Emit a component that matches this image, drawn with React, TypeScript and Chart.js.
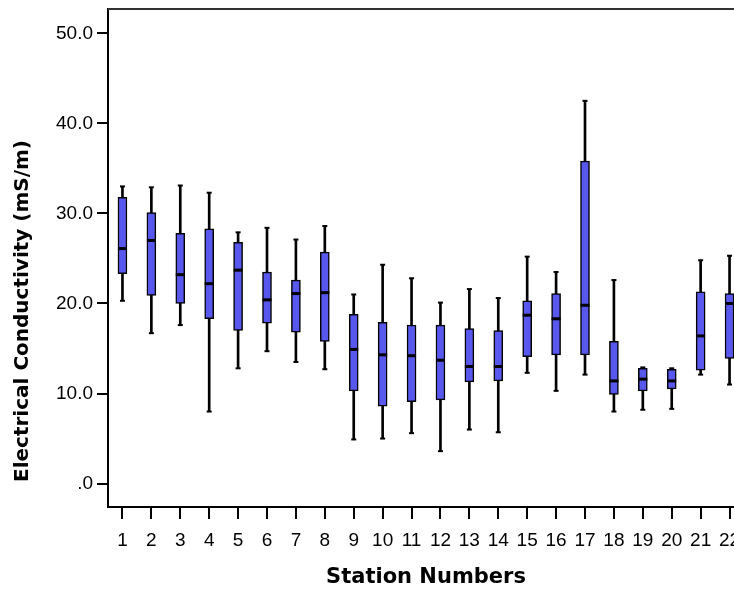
import React, { useEffect, useRef } from 'react';
import { Chart, registerables } from 'chart.js';

Chart.register(...registerables);

// ---- Data ----
const stations = ['1', '2', '3', '4', '5', '6', '7', '8', '9', '10', '11', '12', '13', '14', '15', '16', '17', '18', '19', '20', '21', '22'];
const whiskerMin = [20.3, 16.7, 17.6, 8.0, 12.8, 14.7, 13.5, 12.7, 4.9, 5.0, 5.6, 3.6, 6.0, 5.7, 12.3, 10.3, 12.1, 8.0, 8.2, 8.3, 12.1, 11.0];
const q1 = [23.3, 20.9, 20.0, 18.3, 17.0, 17.8, 16.8, 15.8, 10.3, 8.6, 9.1, 9.3, 11.3, 11.4, 14.1, 14.3, 14.3, 9.9, 10.3, 10.5, 12.6, 13.9];
const median = [26.1, 27.0, 23.2, 22.2, 23.7, 20.4, 21.1, 21.2, 14.9, 14.3, 14.2, 13.7, 13.0, 13.0, 18.7, 18.3, 19.8, 11.4, 11.6, 11.4, 16.4, 20.0];
const q3 = [31.8, 30.1, 27.8, 28.3, 26.8, 23.5, 22.6, 25.7, 18.8, 17.9, 17.6, 17.6, 17.2, 17.0, 20.3, 21.1, 35.8, 15.8, 12.8, 12.7, 21.3, 21.1];
const whiskerMax = [33.0, 32.9, 33.1, 32.3, 27.9, 28.4, 27.1, 28.6, 21.0, 24.3, 22.8, 20.1, 21.6, 20.6, 25.2, 23.5, 42.5, 22.6, 12.9, 12.8, 24.8, 25.3];
const yTickValues = [0, 10, 20, 30, 40, 50];
const yAxisMin = -2.6;
const yAxisMax = 52.7;
const xTitle = 'Station Numbers';
const yTitle = 'Electrical Conductivity (mS/m)';

const BOX_COLOR = 'rgb(88,88,238)';
const TICK_FONT = { family: '"Liberation Sans", Arial, sans-serif', size: 19 };
const TITLE_FAMILY = '"DejaVu Sans", sans-serif';

export default function App() {
  const ref = useRef<HTMLCanvasElement>(null);

  useEffect(() => {
    if (!ref.current) return;

    const boxExtras = {
      id: 'boxExtras',
      afterDatasetsDraw(chart: any) {
        const ctx = chart.ctx;
        const yScale = chart.scales.y;
        const boxMeta = chart.getDatasetMeta(1);
        const whiskerMeta = chart.getDatasetMeta(0);
        ctx.save();
        ctx.strokeStyle = '#000';
        // whisker caps
        whiskerMeta.data.forEach((el: any, i: number) => {
          const x = el.x;
          ctx.lineWidth = 2;
          [whiskerMin[i], whiskerMax[i]].forEach((v) => {
            const y = yScale.getPixelForValue(v);
            ctx.beginPath();
            ctx.moveTo(x - 2.5, y);
            ctx.lineTo(x + 2.5, y);
            ctx.stroke();
          });
        });
        // medians
        boxMeta.data.forEach((el: any, i: number) => {
          const x = el.x;
          const w = el.width;
          const y = yScale.getPixelForValue(median[i]);
          ctx.lineWidth = 3;
          ctx.beginPath();
          ctx.moveTo(x - w / 2, y);
          ctx.lineTo(x + w / 2, y);
          ctx.stroke();
        });
        ctx.restore();
      },
      afterDraw(chart: any) {
        const ctx = chart.ctx;
        const a = chart.chartArea;
        ctx.save();
        // top and right frame lines
        ctx.strokeStyle = '#333';
        ctx.lineWidth = 2;
        ctx.beginPath();
        ctx.moveTo(a.left, a.top);
        ctx.lineTo(a.right, a.top);
        ctx.lineTo(a.right, a.bottom);
        ctx.stroke();
        // y axis title
        ctx.translate(14.5, 303);
        ctx.rotate(-Math.PI / 2);
        ctx.font = 'bold 20px ' + TITLE_FAMILY;
        ctx.textAlign = 'center';
        ctx.textBaseline = 'middle';
        ctx.fillStyle = '#000';
        ctx.fillText(yTitle, 0, 0);
        ctx.restore();
      },
    };

    const chart = new Chart(ref.current, {
      type: 'bar',
      data: {
        labels: stations,
        datasets: [
          {
            label: 'whisker',
            data: stations.map((_, i) => [whiskerMin[i], whiskerMax[i]]) as any,
            backgroundColor: '#000',
            borderWidth: 0,
            barThickness: 2,
            grouped: false,
            order: 2,
          } as any,
          {
            label: 'box',
            data: stations.map((_, i) => [q1[i], q3[i]]) as any,
            backgroundColor: BOX_COLOR,
            borderColor: '#000',
            borderWidth: 1.5,
            borderSkipped: false,
            barThickness: 9,
            grouped: false,
            order: 1,
          } as any,
        ],
      },
      options: {
        animation: false,
        responsive: true,
        maintainAspectRatio: false,
        layout: { padding: { top: 1, right: 24, bottom: 0, left: 0 } },
        plugins: {
          legend: { display: false },
          tooltip: { enabled: false },
        },
        scales: {
          x: {
            type: 'category',
            offset: true,
            grid: {
              display: true,
              offset: false,
              drawOnChartArea: false,
              drawTicks: true,
              tickLength: 12,
              color: '#000',
              lineWidth: 2,
            },
            border: { display: true, color: '#000', width: 2 },
            ticks: {
              autoSkip: false,
              maxRotation: 0,
              minRotation: 0,
              padding: 10,
              color: '#000',
              font: TICK_FONT,
            },
            title: {
              display: true,
              text: xTitle,
              color: '#000',
              font: { family: TITLE_FAMILY, size: 21, weight: 'bold' },
              padding: { top: 0, bottom: 17.4 },
            },
            afterFit: (s: any) => {
              s.height = 101;
              s.paddingLeft = 0;
              s.paddingRight = 0;
            },
          },
          y: {
            type: 'linear',
            min: yAxisMin,
            max: yAxisMax,
            afterBuildTicks: (s: any) => {
              s.ticks = yTickValues.map((v) => ({ value: v }));
            },
            grid: {
              display: true,
              drawOnChartArea: false,
              drawTicks: true,
              tickLength: 11,
              color: '#000',
              lineWidth: 2,
            },
            border: { display: true, color: '#000', width: 2 },
            ticks: {
              padding: 4,
              color: '#000',
              font: TICK_FONT,
              callback: (v: any) => (Number(v) === 0 ? '.0' : Number(v).toFixed(1)),
            },
            afterFit: (s: any) => {
              s.width = 100;
              s.paddingTop = 0;
              s.paddingBottom = 0;
            },
          },
        },
      } as any,
      plugins: [boxExtras],
    });

    return () => chart.destroy();
  }, []);

  return (
    <div style={{ position: 'fixed', left: 0, top: 0, width: 734, height: 592, overflow: 'hidden', background: '#fff' }}>
      <div style={{ position: 'absolute', left: 8, top: 8, width: 760, height: 600 }}>
        <canvas ref={ref} />
      </div>
    </div>
  );
}
